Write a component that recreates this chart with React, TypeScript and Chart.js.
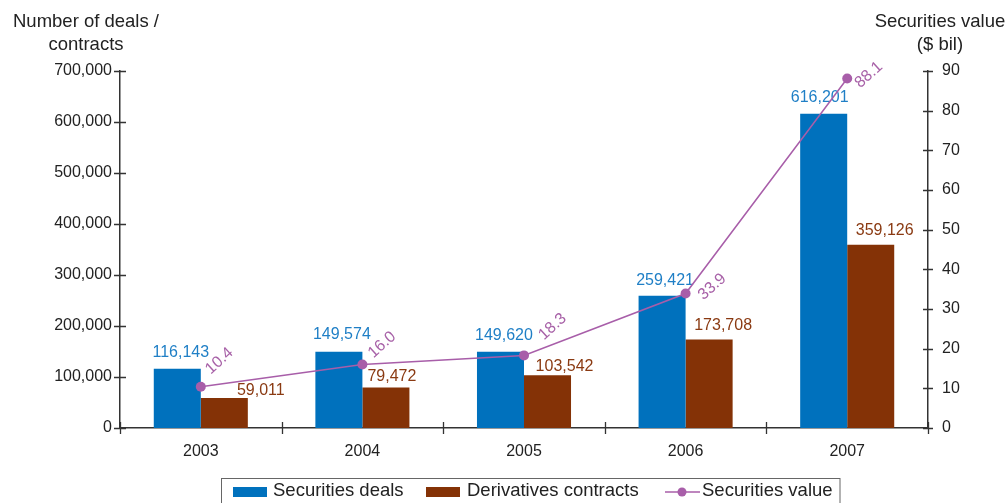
import React, { useEffect, useRef } from 'react';
import { Chart, registerables } from 'chart.js';

Chart.register(...registerables);

// ---- data ----
const years = ['2003', '2004', '2005', '2006', '2007'];
const securitiesDeals = [116143, 149574, 149620, 259421, 616201];
const derivativesContracts = [59011, 79472, 103542, 173708, 359126];
const securitiesValue = [10.4, 16.0, 18.3, 33.9, 88.1];
const leftMax = 700000;
const leftStep = 100000;
const rightMax = 90;
const rightStep = 10;

// ---- label placement (relative nudges, as in the source graphic) ----
const dealLabelShift = [3.5, 3, 3.5, 3, -4];
const dealLabelLift = [12, 13, 12, 11, 12];
const contractLabelShift = [36.5, 6, 17, 14, 14];
const contractLabelLift = [3, 6, 4, 9, 10];
const valueLabelDx = [10, 11, 20, 18, 13];
const valueLabelDy = [-12, -6, -15, 7, 10];

// ---- style ----
const FONT = '"Liberation Sans", Arial, Helvetica, sans-serif';
const BLUE = '#0071bd';
const BROWN = '#843206';
const PURPLE = '#a85ea9';
const BLUE_TXT = '#1f7fc6';
const BROWN_TXT = '#8a3a12';
const PURPLE_TXT = '#a862a8';
const AXIS = '#333333';
const TEXT = '#222222';

const fmt = (v: number) => v.toLocaleString('en-US');

const decor = {
  id: 'decor',
  afterDatasetDraw(chart: any, args: any) {
    if (args.index !== 1) return;
    const ctx = chart.ctx;
    ctx.save();
    ctx.font = `16px ${FONT}`;
    ctx.textAlign = 'center';
    ctx.textBaseline = 'alphabetic';
    const m0 = chart.getDatasetMeta(0);
    const m1 = chart.getDatasetMeta(1);
    m0.data.forEach((el: any, i: number) => {
      ctx.fillStyle = BLUE_TXT;
      ctx.fillText(fmt(securitiesDeals[i]), el.x + dealLabelShift[i], el.y - dealLabelLift[i]);
    });
    m1.data.forEach((el: any, i: number) => {
      ctx.fillStyle = BROWN_TXT;
      ctx.fillText(fmt(derivativesContracts[i]), el.x + contractLabelShift[i], el.y - contractLabelLift[i]);
    });
    ctx.restore();
  },
  afterDatasetsDraw(chart: any) {
    const ctx = chart.ctx;
    const { left, right, bottom } = chart.chartArea;
    ctx.save();
    // tick marks crossing the axes
    ctx.strokeStyle = AXIS;
    ctx.lineWidth = 1.3;
    const ys = chart.scales.y;
    const y1s = chart.scales.y1;
    ctx.beginPath();
    ys.ticks.forEach((t: any) => {
      const py = Math.round(ys.getPixelForValue(t.value)) + 0.5;
      ctx.moveTo(left - 6, py);
      ctx.lineTo(left + 6, py);
    });
    y1s.ticks.forEach((t: any) => {
      const py = Math.round(y1s.getPixelForValue(t.value)) + 0.5;
      ctx.moveTo(right - 5, py);
      ctx.lineTo(right + 5, py);
    });
    const n = years.length;
    for (let i = 0; i <= n; i++) {
      const px = Math.round(left + (i * (right - left)) / n) + 0.5;
      ctx.moveTo(px, bottom - 6);
      ctx.lineTo(px, bottom + 6);
    }
    ctx.stroke();

    // line value labels (rotated)
    const m2 = chart.getDatasetMeta(2);
    ctx.font = `16px ${FONT}`;
    ctx.fillStyle = PURPLE_TXT;
    ctx.textAlign = 'left';
    ctx.textBaseline = 'alphabetic';
    m2.data.forEach((el: any, i: number) => {
      ctx.save();
      ctx.translate(el.x + valueLabelDx[i], el.y + valueLabelDy[i]);
      ctx.rotate((-42 * Math.PI) / 180);
      ctx.fillText(securitiesValue[i].toFixed(1), 0, 0);
      ctx.restore();
    });
    ctx.restore();
  },
  afterDraw(chart: any) {
    const ctx = chart.ctx;
    ctx.save();
    // axis titles
    ctx.font = `18.5px ${FONT}`;
    ctx.fillStyle = TEXT;
    ctx.textAlign = 'center';
    ctx.textBaseline = 'middle';
    ctx.fillText('Number of deals /', 86, 22);
    ctx.fillText('contracts', 86, 45);
    ctx.fillText('Securities value', 940, 22);
    ctx.fillText('($ bil)', 940, 45);

    // legend
    ctx.strokeStyle = '#666666';
    ctx.lineWidth = 1;
    ctx.strokeRect(221.5, 478.5, 618.5, 40);
    ctx.fillStyle = BLUE;
    ctx.fillRect(233, 487, 34, 10);
    ctx.fillStyle = BROWN;
    ctx.fillRect(426, 487, 34, 10);
    ctx.strokeStyle = PURPLE;
    ctx.lineWidth = 1.5;
    ctx.beginPath();
    ctx.moveTo(665, 492);
    ctx.lineTo(700, 492);
    ctx.stroke();
    ctx.fillStyle = PURPLE;
    ctx.beginPath();
    ctx.arc(682, 492, 4.5, 0, Math.PI * 2);
    ctx.fill();
    ctx.font = `18.5px ${FONT}`;
    ctx.fillStyle = TEXT;
    ctx.textAlign = 'left';
    ctx.textBaseline = 'middle';
    ctx.fillText('Securities deals', 273, 491);
    ctx.fillText('Derivatives contracts', 467, 491);
    ctx.fillText('Securities value', 702, 491);
    ctx.restore();
  },
};

export default function App() {
  const ref = useRef<HTMLCanvasElement | null>(null);

  useEffect(() => {
    document.body.style.margin = '0';
    if (!ref.current) return;
    const chart = new Chart(ref.current, {
      type: 'bar',
      data: {
        labels: years,
        datasets: [
          {
            type: 'bar',
            label: 'Securities deals',
            data: securitiesDeals,
            backgroundColor: BLUE,
            yAxisID: 'y',
            order: 1,
            categoryPercentage: 0.582,
            barPercentage: 1,
          },
          {
            type: 'bar',
            label: 'Derivatives contracts',
            data: derivativesContracts,
            backgroundColor: BROWN,
            yAxisID: 'y',
            order: 1,
            categoryPercentage: 0.582,
            barPercentage: 1,
          },
          {
            type: 'line',
            label: 'Securities value',
            data: securitiesValue,
            borderColor: PURPLE,
            backgroundColor: PURPLE,
            borderWidth: 1.5,
            pointRadius: 5,
            pointBackgroundColor: PURPLE,
            pointBorderWidth: 0,
            yAxisID: 'y1',
            order: 0,
            tension: 0,
          },
        ] as any,
      },
      options: {
        animation: false,
        responsive: true,
        maintainAspectRatio: false,
        layout: { padding: { top: 71, left: 0, right: 0, bottom: 0 } },
        plugins: {
          legend: { display: false },
          tooltip: { enabled: false },
        },
        scales: {
          x: {
            offset: true,
            grid: { display: false, drawTicks: false },
            border: { display: true, color: AXIS, width: 1.5 },
            ticks: { font: { family: FONT, size: 16 }, color: TEXT, padding: 14 },
            afterFit: (s: any) => {
              s.height = 75;
            },
          },
          y: {
            position: 'left',
            min: 0,
            max: leftMax,
            grid: { display: false, drawTicks: false },
            border: { display: true, color: AXIS, width: 1.5 },
            ticks: {
              stepSize: leftStep,
              font: { family: FONT, size: 16 },
              color: TEXT,
              padding: 8,
              callback: (v: any) => fmt(Number(v)),
            },
            afterFit: (s: any) => {
              s.width = 120;
            },
          },
          y1: {
            position: 'right',
            min: 0,
            max: rightMax,
            grid: { display: false, drawTicks: false },
            border: { display: true, color: AXIS, width: 1.5 },
            ticks: {
              stepSize: rightStep,
              font: { family: FONT, size: 16 },
              color: TEXT,
              padding: 14,
            },
            afterFit: (s: any) => {
              s.width = 80;
            },
          },
        },
      } as any,
      plugins: [decor],
    });
    return () => chart.destroy();
  }, []);

  return (
    <div style={{ position: 'fixed', left: 0, top: 0, width: 1008, height: 503 }}>
      <canvas ref={ref} />
    </div>
  );
}
